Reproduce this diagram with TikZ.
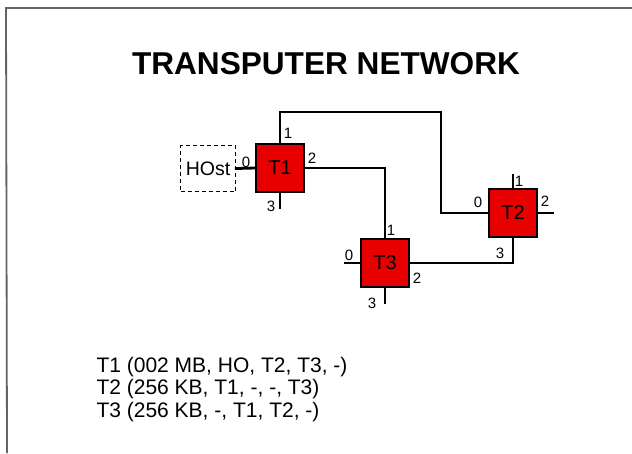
\documentclass[tikz,border=0pt]{standalone}
\usepackage{fontspec}
\setmainfont{Liberation Sans}
\begin{document}
\begin{tikzpicture}[x=1pt,y=-1pt,
  tbox/.style={draw=black,line width=2.4pt,fill={rgb,255:red,232;green,0;blue,0},minimum size=48pt,inner sep=0pt,font=\fontsize{20}{22}\selectfont},
  hostbox/.style={draw=black,dashed,dash pattern=on 4pt off 3pt,line width=1.6pt,minimum width=55pt,minimum height=46pt,inner sep=0pt,font=\fontsize{19.5}{21}\selectfont},
  link/.style={line width=2.8pt,line cap=rect},
  port/.style={font=\fontsize{15}{16}\selectfont,inner sep=0pt},
  frame/.style={draw={rgb,255:red,100;green,100;blue,100},line width=1.8pt}]
\useasboundingbox (0,0) rectangle (632,453);
\fill[white] (0,0) rectangle (632,453);
\coordinate (fa) at (6,8);
\coordinate (fb) at (632,8);
\coordinate (fc) at (7,453);
\draw[frame] (fb) -- (fa) -- (fc);
\node[font=\bfseries\fontsize{31.6}{36}\selectfont,anchor=base] (title) at (326,74) {TRANSPUTER NETWORK};
% nodes
\node[hostbox] (host) at (208,168.5) {HOst};
\node[tbox] (T1) at (280,168) {T1};
\node[tbox] (T2) at (513,213) {T2};
\node[tbox] (T3) at (385,263) {T3};
% routing coordinates
\coordinate (c1) at (441,112);
\coordinate (s13) at (280,208);
\coordinate (s30) at (345,263);
\coordinate (s33) at (385,303);
\coordinate (s21) at (513,175);
\coordinate (s22) at (553,213);
% links
\draw[link] (host.east) -- (T1.west);
\draw[link] (T1.north) |- (c1) |- (T2.west);
\draw[link] (T1.east) -| (T3.north);
\draw[link] (T3.east) -| (T2.south);
\draw[link] (T1.south) -- (s13);
\draw[link] (T3.west) -- (s30);
\draw[link] (T3.south) -- (s33);
\draw[link] (T2.north) -- (s21);
\draw[link] (T2.east) -- (s22);
% port labels
\node[port] (p10) at (246,162) {0};
\node[port] (p11) at (288,133) {1};
\node[port] (p12) at (312,158) {2};
\node[port] (p13) at (271,206) {3};
\node[port] (p30) at (349,255) {0};
\node[port] (p31) at (391,230) {1};
\node[port] (p32) at (417,278) {2};
\node[port] (p33) at (372,303) {3};
\node[port] (p20) at (478,202) {0};
\node[port] (p21) at (519,181) {1};
\node[port] (p22) at (545,201) {2};
\node[port] (p23) at (500,253) {3};
% list
\node[anchor=base west,font=\fontsize{21}{22.5}\selectfont] (l1) at (93,372) {T1 (002 MB, HO, T2, T3, -)};
\node[anchor=base west,font=\fontsize{21}{22.5}\selectfont] (l2) at (93,394.5) {T2 (256 KB, T1, -, -, T3)};
\node[anchor=base west,font=\fontsize{21}{22.5}\selectfont] (l3) at (93,417) {T3 (256 KB, -, T1, T2, -)};
\end{tikzpicture}
\end{document}
